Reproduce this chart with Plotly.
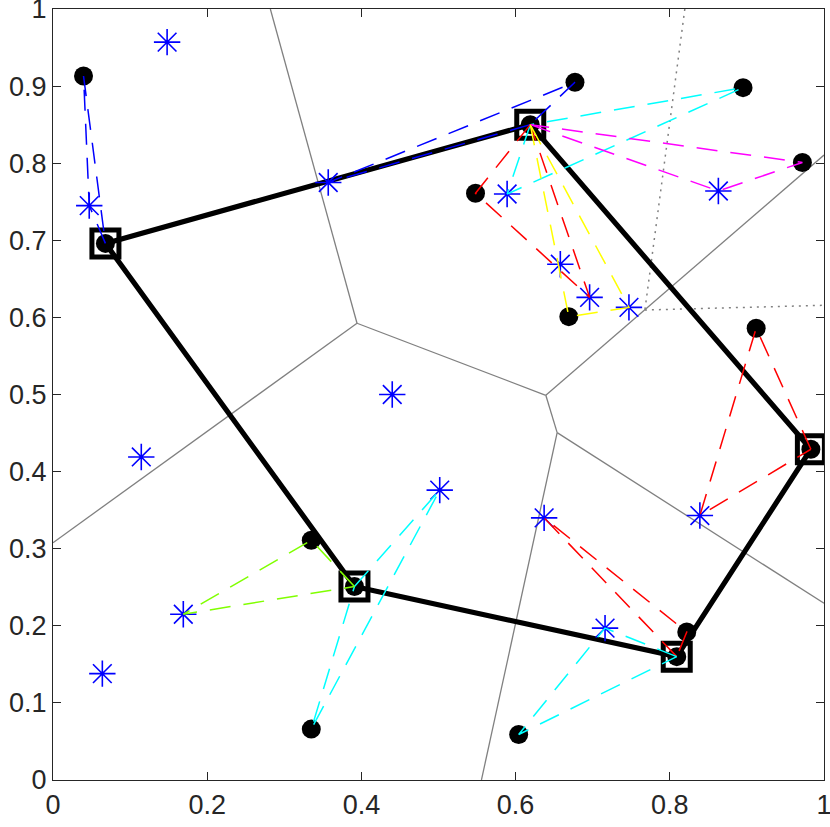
import plotly.graph_objects as go

# ---- data ----
# black dots (customers / facilities)
dot_x = [0.0396, 0.068, 0.677, 0.619, 0.895, 0.972, 0.548, 0.669,
         0.912, 0.335, 0.391, 0.335, 0.983, 0.822, 0.809, 0.604]
dot_y = [0.913, 0.696, 0.905, 0.850, 0.898, 0.801, 0.761, 0.601,
         0.586, 0.311, 0.251, 0.066, 0.429, 0.192, 0.160, 0.059]

# blue asterisks
star_x = [0.148, 0.047, 0.357, 0.440, 0.589, 0.863, 0.658, 0.696,
          0.747, 0.1145, 0.169, 0.064, 0.5016, 0.637, 0.839, 0.716]
star_y = [0.957, 0.745, 0.775, 0.500, 0.760, 0.764, 0.669, 0.626,
          0.613, 0.419, 0.215, 0.138, 0.376, 0.340, 0.343, 0.197]

# depots (indices into dots), in tour order
tour_idx = [1, 3, 12, 14, 10]

# dashed routes: colour and stops ("D#" = dot index, "A#" = asterisk index)
route_colors = ["#0000FF", "#0000FF", "#00FFFF", "#FF00FF", "#FF0000",
                "#FFFF00", "#FF0000", "#FF0000", "#00FFFF", "#00FFFF", "#80FF00"]
route_stops = [
    ["D1", "A1", "D0", "D1"],
    ["D3", "A2", "D2", "D3"],
    ["D3", "A4", "D4", "D3"],
    ["D3", "A5", "D5", "D3"],
    ["D3", "D6", "A7", "D3"],
    ["D3", "D7", "A8", "D3"],
    ["D12", "D8", "A14", "D12"],
    ["D14", "A13", "D13", "D14"],
    ["D14", "A15", "D15", "D14"],
    ["D10", "A12", "D11", "D10"],
    ["D10", "D9", "A10", "D10"],
]

# Voronoi-type edges (gray)
vor_solid_edges = [
    ((0.2819, 1.0), (0.3943, 0.5924)),
    ((0.3943, 0.5924), (0.0, 0.3078)),
    ((0.3943, 0.5924), (0.6392, 0.4990)),
    ((0.6392, 0.4990), (1.0, 0.8106)),
    ((0.6392, 0.4990), (0.6539, 0.4505)),
    ((0.6539, 0.4505), (0.5557, 0.0)),
    ((0.6539, 0.4505), (1.0, 0.2292)),
]
vor_dotted_edges = [
    ((0.8195, 1.0), (0.7677, 0.6096)),
    ((0.7677, 0.6096), (1.0, 0.6157)),
]

x_ticks = [0, 0.2, 0.4, 0.6, 0.8, 1]
y_ticks = [0, 0.1, 0.2, 0.3, 0.4, 0.5, 0.6, 0.7, 0.8, 0.9, 1]


def pt(code):
    i = int(code[1:])
    if code[0] == "D":
        return dot_x[i], dot_y[i]
    return star_x[i], star_y[i]


def seg_xy(edges):
    xs, ys = [], []
    for (a, b) in edges:
        xs += [a[0], b[0], None]
        ys += [a[1], b[1], None]
    return xs, ys


fig = go.Figure()

sx, sy = seg_xy(vor_solid_edges)
fig.add_trace(go.Scatter(x=sx, y=sy, mode="lines",
                         line=dict(color="#808080", width=1.3), hoverinfo="skip"))
dx, dy = seg_xy(vor_dotted_edges)
fig.add_trace(go.Scatter(x=dx, y=dy, mode="lines",
                         line=dict(color="#808080", width=1.5, dash="2px,5px"),
                         hoverinfo="skip"))

tx = [dot_x[i] for i in tour_idx] + [dot_x[tour_idx[0]]]
ty = [dot_y[i] for i in tour_idx] + [dot_y[tour_idx[0]]]
fig.add_trace(go.Scatter(x=tx, y=ty, mode="lines",
                         line=dict(color="black", width=5.2)))
fig.add_trace(go.Scatter(x=[dot_x[i] for i in tour_idx], y=[dot_y[i] for i in tour_idx],
                         mode="markers",
                         marker=dict(symbol="square-open", size=27, color="black",
                                     line=dict(width=5, color="black"))))
fig.add_trace(go.Scatter(x=dot_x, y=dot_y, mode="markers",
                         marker=dict(symbol="circle", size=19, color="black",
                                     line=dict(width=0))))
fig.add_trace(go.Scatter(x=star_x, y=star_y, mode="markers",
                         marker=dict(symbol="asterisk-open", size=22, color="#0000FF",
                                     line=dict(width=1.6, color="#0000FF"))))

for col, stops in zip(route_colors, route_stops):
    pts = [pt(s) for s in stops]
    fig.add_trace(go.Scatter(x=[p[0] for p in pts], y=[p[1] for p in pts],
                             mode="lines",
                             line=dict(color=col, width=1.5, dash="21px,13px")))

axis_common = dict(
    range=[0, 1], showgrid=False, zeroline=False, automargin=False,
    showline=True, linecolor="#262626", linewidth=1.2, mirror="allticks",
    ticks="inside", ticklen=8, tickwidth=1.2, tickcolor="#262626",
    ticklabeloverflow="allow",
    tickfont=dict(family="Liberation Sans, Arial, sans-serif", size=27, color="#262626"),
)
fig.update_xaxes(tickvals=x_ticks, ticktext=[f"{v:g}" for v in x_ticks], **axis_common)
fig.update_yaxes(tickvals=y_ticks, ticktext=[f"{v:g}" for v in y_ticks], **axis_common)

fig.update_layout(
    width=830, height=827,
    margin=dict(l=53, r=6, t=9, b=47),
    plot_bgcolor="white", paper_bgcolor="white",
    showlegend=False,
)

fig.write_html("out.html", config={"displayModeBar": False},
               post_script="document.body.style.margin='0';document.body.style.overflow='hidden';")
